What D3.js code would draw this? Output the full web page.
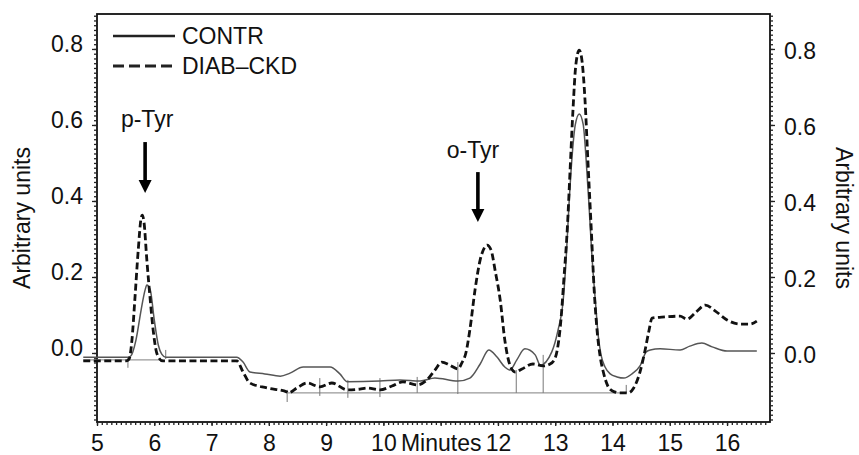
<!DOCTYPE html>
<html><head><meta charset="utf-8">
<script src="https://cdn.jsdelivr.net/npm/d3@7"></script>
<style>body{margin:0;background:#fff}svg{display:block}text{font-family:"Liberation Sans",Arial,Helvetica,sans-serif;fill:#111}</style>
</head><body><svg id="c" width="859" height="455"></svg>
<script>
// ---- data ----
const xTicks = [5,6,7,8,9,10,11,12,13,14,15,16];
const xTickLabels = ["5","6","7","8","9","10","Minutes","12","13","14","15","16"];
const yTicks = [0,0.2,0.4,0.6,0.8];
const yTickLabels = ["0.0","0.2","0.4","0.6","0.8"];
const seriesNames = ["CONTR","DIAB\u2013CKD"];
const yAxisTitle = "Arbitrary units";
const peakLabels = ["p-Tyr","o-Tyr"];
const peakTimes = [5.84, 11.65];

const contrTime = [4.76,5.54,5.59,5.68,5.77,5.84,5.87,5.93,6.00,6.07,6.13,6.20,7.44,7.55,7.67,7.93,8.20,8.37,8.60,9.07,9.24,9.37,9.94,10.29,10.64,10.90,11.30,11.51,11.69,11.84,11.98,12.12,12.21,12.33,12.47,12.65,12.74,12.94,13.05,13.14,13.19,13.24,13.29,13.35,13.42,13.49,13.54,13.59,13.64,13.70,13.75,13.80,13.87,13.96,14.08,14.20,14.34,14.48,14.59,14.66,14.83,15.18,15.35,15.56,15.74,16.00,16.52];
const contrValue = [-0.011,-0.011,-0.008,0.034,0.113,0.166,0.179,0.166,0.087,0.021,-0.003,-0.011,-0.011,-0.024,-0.050,-0.055,-0.061,-0.053,-0.037,-0.037,-0.055,-0.076,-0.074,-0.071,-0.074,-0.066,-0.074,-0.066,-0.029,0.008,-0.010,-0.037,-0.045,-0.018,0.011,-0.005,-0.032,0.003,0.061,0.140,0.245,0.389,0.508,0.600,0.629,0.600,0.508,0.389,0.258,0.139,0.047,-0.005,-0.037,-0.055,-0.063,-0.066,-0.055,-0.034,0.003,0.008,0.011,0.008,0.018,0.026,0.016,0.005,0.005];

const diabTime = [4.76,5.51,5.56,5.61,5.66,5.72,5.77,5.79,5.82,5.87,5.93,5.98,6.03,6.08,6.15,7.44,7.55,7.67,7.97,8.32,8.34,8.49,8.67,8.89,9.10,9.37,9.59,9.71,9.94,10.15,10.34,10.59,10.76,10.90,11.02,11.16,11.30,11.37,11.44,11.51,11.60,11.69,11.76,11.81,11.88,11.95,12.04,12.12,12.21,12.30,12.42,12.61,12.79,12.91,13.00,13.05,13.10,13.15,13.21,13.26,13.31,13.36,13.42,13.47,13.52,13.57,13.63,13.68,13.73,13.78,13.84,13.91,14.00,14.13,14.27,14.37,14.48,14.57,14.64,14.69,14.92,15.18,15.30,15.46,15.62,15.79,16.00,16.23,16.40,16.52];
const diabValue = [-0.021,-0.021,-0.016,0.034,0.139,0.271,0.355,0.363,0.345,0.245,0.139,0.061,0.008,-0.013,-0.021,-0.021,-0.050,-0.079,-0.092,-0.103,-0.105,-0.092,-0.079,-0.089,-0.079,-0.097,-0.095,-0.092,-0.097,-0.087,-0.076,-0.084,-0.071,-0.045,-0.024,-0.032,-0.042,-0.026,0.000,0.061,0.166,0.245,0.276,0.284,0.271,0.218,0.139,0.034,-0.032,-0.050,-0.042,-0.029,-0.034,-0.029,-0.013,0.021,0.087,0.192,0.324,0.482,0.639,0.758,0.797,0.766,0.666,0.508,0.324,0.166,0.061,-0.005,-0.050,-0.084,-0.100,-0.105,-0.105,-0.092,-0.050,0.008,0.061,0.092,0.095,0.097,0.089,0.108,0.126,0.111,0.087,0.076,0.076,0.084];

// integration marks and baselines of the chromatogram
const markerTime = [5.54,6.20,8.32,8.89,9.38,9.94,10.59,11.30,12.32,12.79,14.24];
const markerTop = [-0.013,0.008,-0.097,-0.066,-0.071,-0.066,-0.063,-0.024,-0.045,-0.005,-0.084];
const markerBottom = [-0.039,-0.016,-0.129,-0.113,-0.118,-0.116,-0.105,-0.108,-0.105,-0.105,-0.105];
const baselineStart = [4.76, 8.32];
const baselineEnd = [6.15, 14.24];
const baselineValue = [-0.018, -0.105];

// ---- chart ----
const svg = d3.select("#c");
const L = 97, R = 770, T = 14, B = 422;
const x = d3.scaleLinear().domain([5, 16.75]).range([L, R]);
const y = d3.scaleLinear().domain([-0.1816, 0.892]).range([B, T]);
const FS = 23;

// frame
svg.append("rect").attr("x", L).attr("y", T).attr("width", R - L).attr("height", B - T)
  .attr("fill", "none").attr("stroke", "#111").attr("stroke-width", 1.8);

// minor ticks
const minorY = d3.range(-0.175, 0.8901, 0.0125);
const minorX = d3.range(5, 16.75, 1/12);
const axL = svg.append("g").attr("transform", `translate(${L},0)`)
  .call(d3.axisLeft(y).tickValues(minorY).tickSize(3).tickFormat(""));
const axR = svg.append("g").attr("transform", `translate(${R},0)`)
  .call(d3.axisRight(y).tickValues(minorY).tickSize(3).tickFormat(""));
const axB = svg.append("g").attr("transform", `translate(0,${B})`)
  .call(d3.axisBottom(x).tickValues(minorX).tickSize(3).tickFormat(""));
[axL, axR, axB].forEach(g => {
  g.select(".domain").remove();
  g.selectAll("line").attr("stroke", "#222").attr("stroke-width", 1.3);
});

// major axes with labels
const majL = svg.append("g").attr("transform", `translate(${L},0)`)
  .call(d3.axisLeft(y).tickValues(yTicks).tickSize(5).tickPadding(9).tickFormat((d,i) => yTickLabels[i]));
const majR = svg.append("g").attr("transform", `translate(${R},0)`)
  .call(d3.axisRight(y).tickValues(yTicks).tickSize(5).tickPadding(9).tickFormat((d,i) => yTickLabels[i]));
const majB = svg.append("g").attr("transform", `translate(0,${B})`)
  .call(d3.axisBottom(x).tickValues(xTicks).tickSize(4).tickPadding(9).tickFormat((d,i) => xTickLabels[i]));
[majL, majR, majB].forEach(g => {
  g.select(".domain").remove();
  g.selectAll("line").attr("stroke", "#222").attr("stroke-width", 1.3);
  g.selectAll("text").attr("font-size", FS).attr("font-family", '"Liberation Sans",Arial,sans-serif').attr("fill", "#111");
});
majL.selectAll("text").attr("dy", "0.1em");
majR.selectAll("text").attr("dy", "0.4em");

// axis titles
svg.append("text").attr("transform", `translate(30,${(T+B)/2}) rotate(-90)`)
  .attr("text-anchor", "middle").attr("font-size", FS).text(yAxisTitle);
svg.append("text").attr("transform", `translate(836,${(T+B)/2}) rotate(90)`)
  .attr("text-anchor", "middle").attr("font-size", FS).text(yAxisTitle);

// baselines
svg.append("g").selectAll("line").data(baselineStart).join("line")
  .attr("x1", (d,i) => x(d)).attr("x2", (d,i) => x(baselineEnd[i]))
  .attr("y1", (d,i) => y(baselineValue[i])).attr("y2", (d,i) => y(baselineValue[i]))
  .attr("stroke", "#999").attr("stroke-width", 1.2);
// integration markers
svg.append("g").selectAll("line").data(markerTime).join("line")
  .attr("x1", d => x(d)).attr("x2", d => x(d))
  .attr("y1", (d,i) => y(markerTop[i])).attr("y2", (d,i) => y(markerBottom[i]))
  .attr("stroke", "#777").attr("stroke-width", 1);

const line = d3.line().x(d => x(d[0])).y(d => y(d[1])).curve(d3.curveMonotoneX);
const contr = contrTime.map((t,i) => [t, contrValue[i]]);
const diab = diabTime.map((t,i) => [t, diabValue[i]]);

svg.append("path").datum(contr).attr("d", line).attr("fill", "none")
  .attr("stroke", "#555").attr("stroke-width", 1.5);
svg.append("path").datum(diab).attr("d", line).attr("fill", "none")
  .attr("stroke", "#111").attr("stroke-width", 2.8).attr("stroke-dasharray", "7,3.5");

// legend
const lg = svg.append("g");
lg.append("line").attr("x1", 113).attr("x2", 175).attr("y1", 36).attr("y2", 36)
  .attr("stroke", "#222").attr("stroke-width", 2.6);
lg.append("text").attr("x", 182).attr("y", 44).attr("font-size", FS).text(seriesNames[0]);
lg.append("line").attr("x1", 113).attr("x2", 175).attr("y1", 66).attr("y2", 66)
  .attr("stroke", "#222").attr("stroke-width", 3).attr("stroke-dasharray", "11,5");
lg.append("text").attr("x", 182).attr("y", 74).attr("font-size", FS).text(seriesNames[1]);

// peak annotations
const arrowTop = [0.555, 0.476], arrowTip = [0.421, 0.345], labelBase = [0.595, 0.513];
peakTimes.forEach((t, i) => {
  const ax = x(t), y0 = y(arrowTop[i]), y1 = y(arrowTip[i]);
  svg.append("line").attr("x1", ax).attr("x2", ax).attr("y1", y0).attr("y2", y1 - 10)
    .attr("stroke", "#000").attr("stroke-width", 3.6);
  svg.append("path").attr("d", `M${ax-6.5},${y1-13}L${ax+6.5},${y1-13}L${ax},${y1}Z`).attr("fill", "#000");
  svg.append("text").attr("x", ax + (i === 0 ? 2 : -5)).attr("y", y(labelBase[i]))
    .attr("text-anchor", "middle").attr("font-size", FS).text(peakLabels[i]);
});
</script></body></html>
